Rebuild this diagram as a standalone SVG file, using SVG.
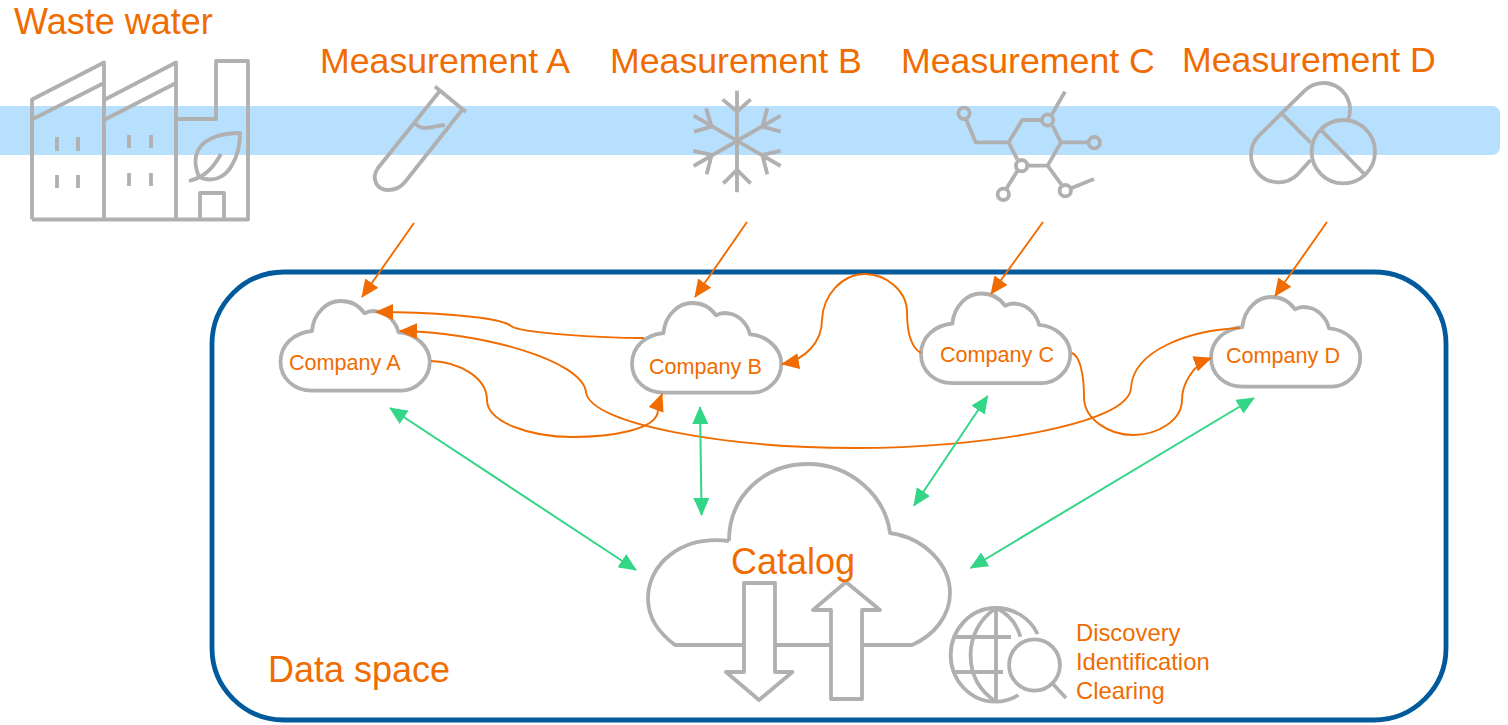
<svg xmlns="http://www.w3.org/2000/svg" width="1508" height="725" viewBox="0 0 1508 725">
<style>
text{font-family:"Liberation Sans",Arial,sans-serif;fill:#f06c00}
.t1{font-size:36px}.t2{font-size:35.7px}.t3{font-size:21.6px}.t4{font-size:23.8px}
.ic{fill:none;stroke:#b0b0b0;stroke-width:3.8;stroke-linejoin:round}
.ic3{fill:none;stroke:#b0b0b0;stroke-width:11.5;stroke-linejoin:round}
.cl{fill:none;stroke:#b0b0b0;stroke-width:3.8;stroke-linejoin:round}
.o{fill:none;stroke:#f06c00;stroke-width:1.9}
.g{fill:none;stroke:#33d587;stroke-width:2;marker-start:url(#gh);marker-end:url(#gh)}
</style>
<defs>
<marker id="oh" markerUnits="userSpaceOnUse" viewBox="0 0 18 16" markerWidth="18" markerHeight="16" refX="17" refY="8" orient="auto"><path d="M0,0L18,8L0,16z" fill="#f06c00"/></marker>
<marker id="gh" markerUnits="userSpaceOnUse" viewBox="0 0 18 16" markerWidth="18" markerHeight="16" refX="17" refY="8" orient="auto-start-reverse"><path d="M0,0L18,8L0,16z" fill="#33d587"/></marker>
<path id="cloud" d="M31.4,30C33.2,10.7 47.5,0 60,0C70.7,0 79,5 84,12.3C88.6,9.7 94,9.7 97.5,10.7C108,12.3 116,22.3 118,31.3C135,32.3 149.3,45.7 149.3,60.7C149.3,77.3 135,89.7 120.7,89.7L31.4,89.7C13.6,89.7 0,77.3 0,60.7C0,44 13.6,31.7 31.4,30Z"/>
</defs>
<rect id="band" x="-20" y="106" width="1520" height="49" rx="8" fill="#b7dffe"/>
<rect id="data-space" x="212" y="272" width="1234" height="448" rx="72" fill="none" stroke="#005a9b" stroke-width="4.8"/>
<g id="waste-water">
<path class="ic" d="M32,219.5V99.5L104,62.5V219.5M32,119.5L104,83M105,99.5L176,62.5V219.5M105,119.5L176,83M32,219.5H248V61H216V119H176M200,219.5V193H224V219.5"/>
<path class="ic" d="M57,137V151M78,137V151M57,175V188M78,175V188M129,135V148M151,135V148M129,173V186M151,173V186"/>
<path class="ic" d="M240,133C222,133 200,138 196,156C194,165 197,172 199,177C210,182 224,180 232,165C238,155 240,145 240,133ZM189,181C205,177 213,168 221,154"/>
<text class="t1" x="14" y="34">Waste water</text>
</g>
<g id="measurement-a">
<path class="ic" d="M435,86.5L466,112M439,92L378,168C370,180 378,190 388,190C395,190 401,187 405,182L462,110M415,123C422,132 432,126 445,125"/>
<text class="t2" x="320" y="73">Measurement A</text>
</g>
<g id="measurement-b">
<g transform="translate(660,70) scale(.3333)"><path class="ic3" d="M231,62V367M101,137L362,288M362,137L101,288M188,88L231,125L272,88M190,340L231,300L272,340M138,115L155,170L102,185M322,115L307,170L362,185M100,243L155,255L140,313M362,243L307,255L322,313"/></g>
<text class="t2" x="610" y="73">Measurement B</text>
</g>
<g id="measurement-c">
<g transform="translate(660,70) scale(.3333)" class="ic3"><path d="M1150,150H1087L1046,217L1072,268M1100,287H1163L1203,217L1178,168M1175,135L1215,65M1203,217H1285M1072,303L1040,355M1163,287L1205,345M1233,355L1302,327M918,147L947,217H1046"/><circle cx="912" cy="130" r="17"/><circle cx="1163" cy="150" r="17"/><circle cx="1303" cy="218" r="17"/><circle cx="1085" cy="287" r="17"/><circle cx="1030" cy="373" r="17"/><circle cx="1216" cy="362" r="17"/></g>
<text class="t2" x="901" y="73">Measurement C</text>
</g>
<g id="measurement-d">
<g transform="translate(1200,70) scale(.3333)" class="ic3"><path d="M443,152A80,80 0 0 0 315,61L177,197A82,82 0 0 0 293,313L332,270M248,133L332,218M365,182L493,312"/><circle cx="430" cy="245" r="95"/></g>
<text class="t2" x="1182" y="72">Measurement D</text>
</g>
<g id="company-a"><use href="#cloud" class="cl" x="280.5" y="301"/><text class="t3" x="289" y="370">Company A</text></g>
<g id="company-b"><use href="#cloud" class="cl" x="632" y="303"/><text class="t3" x="649" y="374">Company B</text></g>
<g id="company-c"><use href="#cloud" class="cl" x="921" y="293.5"/><text class="t3" x="940" y="362">Company C</text></g>
<g id="company-d"><use href="#cloud" class="cl" x="1211" y="297"/><text class="t3" x="1226" y="363">Company D</text></g>
<g id="catalog">
<path class="ic" d="M729,541C729,495 765,464 808,464C850,464 885,495 890,533C925,538 950,565 950,593C950,615 935,635 912,645L863,645M831,645L775,645M744,645L675,645C658,632 648,618 648,598C648,565 680,535 729,541"/>
<path class="ic" d="M744,583H775V672H792.5L759,700L726,672H744Z"/>
<path class="ic" d="M846,582L880,610H862V699H831V610H813Z"/>
<text class="t1" x="731" y="574">Catalog</text>
</g>
<g id="discovery">
<path class="ic" d="M1037.6,634C1030,618 1014,608 995.5,608C970,608 950.7,630 950.7,655C950.7,680 970,701.7 995.5,701.7C1004,701.7 1012,699 1018.4,695"/>
<path class="ic" d="M996,608C978,620 970.6,638 970.6,655C970.6,673 978,690 996,701.7M996,608C1009,614 1017,625 1020.4,636.7M996,608V702M955,637H1011M955,672H1003"/>
<ellipse class="ic" cx="1034.5" cy="665" rx="25.4" ry="25.7"/>
<path class="ic" d="M1052,683L1066,698"/>
<text class="t4" x="1076" y="641">Discovery</text>
<text class="t4" x="1076" y="670">Identification</text>
<text class="t4" x="1076" y="699">Clearing</text>
</g>
<text class="t1" x="268" y="682">Data space</text>
<g id="connectors">
<path class="o" marker-end="url(#oh)" d="M414,223L362,297"/>
<path class="o" marker-end="url(#oh)" d="M747,222L695,297"/>
<path class="o" marker-end="url(#oh)" d="M1043,222L991,294"/>
<path class="o" marker-end="url(#oh)" d="M1327,222L1275,296"/>
<path class="o" marker-end="url(#oh)" d="M644,338C600,338 520,333 511,326C500,316 420,312 376,312"/>
<path class="o" marker-end="url(#oh)" d="M1240,328C1190,330 1133,350 1131,388C1129,425 980,448 855,448C730,448 590,425 586,392C582,360 480,332 400,331"/>
<path class="o" marker-end="url(#oh)" d="M431,361C460,362 487,378 487,400C487,422 530,437 572,437C610,437 658,430 658,410Q659,402 662,394"/>
<path class="o" marker-end="url(#oh)" d="M921,353C912,348 907,335 907,312C907,290 885,274 865,274C842,274 823,295 822,320C822,342 805,360 782,364"/>
<path class="o" marker-end="url(#oh)" d="M1072,353C1080,356 1084,375 1084,397C1084,420 1110,435 1133,435C1158,435 1182,420 1182,400C1182,385 1192,365 1211,358"/>
<path class="g" d="M390,408L636,570"/>
<path class="g" d="M700,407L701.6,515"/>
<path class="g" d="M987.6,396L914,505.7"/>
<path class="g" d="M1254,398L970.6,568"/>
</g>
</svg>
